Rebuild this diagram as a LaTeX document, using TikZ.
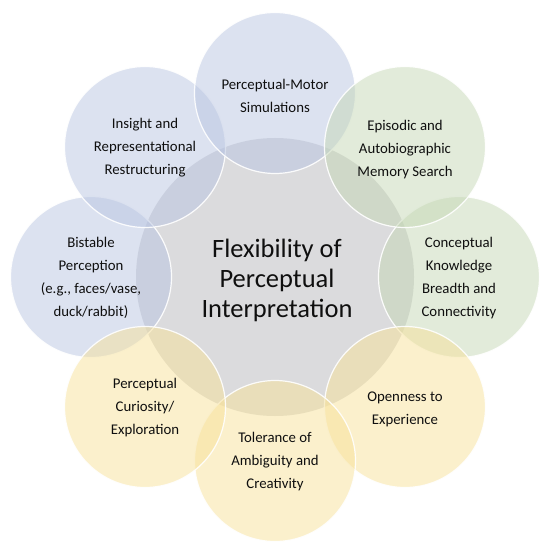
\documentclass[tikz,border=0pt]{standalone}
\usepackage{fontspec}
\setmainfont{Carlito}
\definecolor{cblue}{RGB}{185,197,225}
\definecolor{cgreen}{RGB}{197,215,181}
\definecolor{cyellow}{RGB}{247,225,153}
\definecolor{cgray}{RGB}{219,219,221}
\definecolor{ctext}{RGB}{15,15,15}
\tikzset{
  outer/.style={circle, minimum size=161pt, inner sep=0pt, draw=white, line width=1.2pt, fill opacity=0.5, draw opacity=0.9},
  blueC/.style={outer, fill=cblue},
  greenC/.style={outer, fill=cgreen},
  yellowC/.style={outer, fill=cyellow},
  lbl/.style={align=center, text=ctext, font=\fontsize{14.8}{23}\selectfont, inner sep=0pt},
  mainlbl/.style={align=center, text=ctext, font=\fontsize{26.5}{30}\selectfont, inner sep=0pt}
}
\begin{document}
\begin{tikzpicture}[x=1pt,y=-1pt]
\useasboundingbox (0,0) rectangle (554,556);
\node[circle, minimum size=278pt, inner sep=0pt, fill=cgray] (c) at (275,277) {};
\node[blueC] (cl) at (91,277) {};
\node[blueC] (ctl) at (145,147) {};
\node[blueC] (ct) at (275,93) {};
\node[greenC] (cr) at (459,277) {};
\node[greenC] (ctr) at (405,147) {};
\node[yellowC] (cbr) at (405,407) {};
\node[yellowC] (cb) at (275,461) {};
\node[yellowC] (cbl) at (145,407) {};
\node[mainlbl] (tc) at (277,280) {Flexibility of\\Perceptual\\Interpretation};
\node[lbl] (tt) at (275,96) {Perceptual-Motor\\Simulations};
\node[lbl] (ttr) at (405,150) {Episodic and\\Autobiographic\\Memory Search};
\node[lbl] (tr) at (459,278) {Conceptual\\Knowledge\\Breadth and\\Connectivity};
\node[lbl] (tbr) at (405,409) {Openness to\\Experience};
\node[lbl] (tb) at (275,462) {Tolerance of\\Ambiguity and\\Creativity};
\node[lbl] (tbl) at (145,408) {Perceptual\\Curiosity/\\Exploration};
\node[lbl] (tl) at (91,278) {Bistable\\Perception\\(e.g., faces/vase,\\duck/rabbit)};
\node[lbl] (ttl) at (145,148) {Insight and\\Representational\\Restructuring};
\end{tikzpicture}
\end{document}
